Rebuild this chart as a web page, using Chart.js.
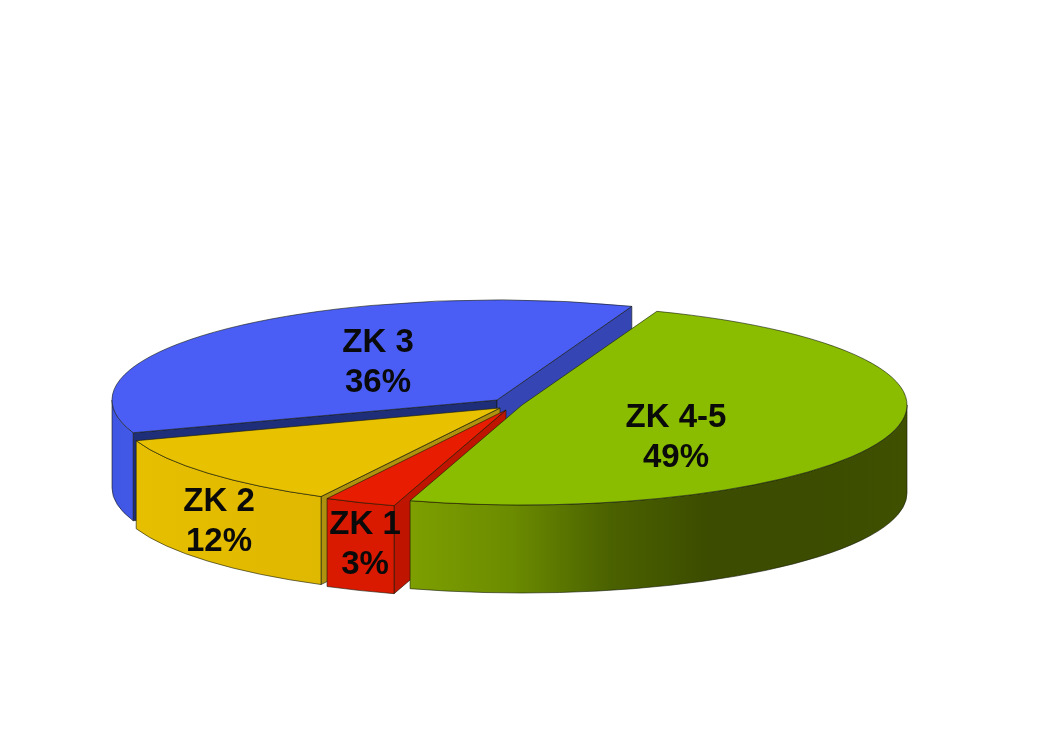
<!DOCTYPE html>
<html>
<head>
<meta charset="utf-8">
<title>ZK</title>
<script src="https://cdn.jsdelivr.net/npm/chart.js@4"></script>
<style>
    html, body { margin: 0; padding: 0; background: #fff; }
    canvas { display: block; }
</style>
</head>
<body>
<canvas id="canvas" width="1040" height="742"></canvas>
<script>
// values, clockwise from the green slice
const categories = ['ZK 4-5', 'ZK 1', 'ZK 2', 'ZK 3'];
const shares = [49, 3, 12, 36];
const percentLabels = ['49%', '3%', '12%', '36%'];

// colours
const topColors = ['#8abd00', '#e81c00', '#e8c100', '#4a5ef6'];
const rimStops = [
    ['#7d9f00', '#6c8c00', '#4b6200', '#3c4c00', '#3c4c00', '#3f5000'],
    ['#d91a00', '#d91a00'],
    ['#e6bf00', '#dfb800'],
    ['#3f55e4', '#4258e6']
];
const startFaces = [null, '#bf1500', '#ad910f', '#1f2e78'];
const endFaces = [null, null, null, '#3546b4'];

// flattened pie layout, in screen pixels
const center = {x: 512, y: 408};
const radiusX = 385;
const radiusY = 100;
const depth = 88;
const firstAngle = 20.5;
const explodeX = [10, -6, -12, -15];
const explodeY = [-3, 2, 0, -8];
const labelDx = [154, -141, -281, -119];
const labelDy = [33, 135, 114, -37];
const edgeColor = 'rgba(20, 25, 10, 0.75)';

const rimPoint = (c, angle) => ({
    x: c.x + radiusX * Math.cos(angle),
    y: c.y + radiusY * Math.sin(angle)
});

const sliceCenter = (i) => ({x: center.x + explodeX[i], y: center.y + explodeY[i]});

const drawFace = (ctx, c, angle, color) => {
    const p = rimPoint(c, angle);
    ctx.beginPath();
    ctx.moveTo(c.x, c.y);
    ctx.lineTo(p.x, p.y);
    ctx.lineTo(p.x, p.y + depth);
    ctx.lineTo(c.x, c.y + depth);
    ctx.closePath();
    ctx.fillStyle = color;
    ctx.fill();
    ctx.stroke();
}

const drawRim = (ctx, c, from, to, stops) => {
    const a1 = Math.max(from, 0);
    const a2 = Math.min(to, Math.PI);
    if (a2 <= a1) return;
    const xs = [rimPoint(c, a1).x, rimPoint(c, a2).x];
    const gradient = ctx.createLinearGradient(Math.min(...xs), 0, Math.max(...xs), 0);
    // angles run from right to left on the front side, stops are listed left to right
    stops.forEach((color, n) => gradient.addColorStop(n / (stops.length - 1), color));
    ctx.beginPath();
    ctx.ellipse(c.x, c.y, radiusX, radiusY, 0, a1, a2);
    ctx.ellipse(c.x, c.y + depth, radiusX, radiusY, 0, a2, a1, true);
    ctx.closePath();
    ctx.fillStyle = gradient;
    ctx.fill();
    ctx.stroke();
}

const pie3d = {
    id: 'pie3d',
    beforeDatasetDraw(chart, args) {
        const ctx = chart.ctx;
        const arcs = args.meta.data;
        const order = arcs.map((_, i) => i).reverse();

        ctx.save();
        ctx.lineWidth = 0.8;
        ctx.strokeStyle = edgeColor;
        ctx.lineJoin = 'round';

        // sides first, back slices before front ones
        order.forEach(i => {
            const c = sliceCenter(i);
            const {startAngle, endAngle} = arcs[i];
            if (startFaces[i]) drawFace(ctx, c, startAngle, startFaces[i]);
            if (endFaces[i]) drawFace(ctx, c, endAngle, endFaces[i]);
            drawRim(ctx, c, startAngle, endAngle, rimStops[i]);
        });

        // then the top surfaces, squeezed from the library's own arcs
        order.forEach(i => {
            const arc = arcs[i];
            const c = sliceCenter(i);
            ctx.save();
            ctx.translate(c.x, c.y);
            ctx.scale(radiusX / arc.outerRadius, radiusY / arc.outerRadius);
            ctx.translate(-arc.x, -arc.y);
            arc.draw(ctx);
            ctx.restore();

            ctx.beginPath();
            ctx.moveTo(c.x, c.y);
            ctx.ellipse(c.x, c.y, radiusX, radiusY, 0, arc.startAngle, arc.endAngle);
            ctx.closePath();
            ctx.stroke();
        });
        ctx.restore();
        return false;
    },
    afterDatasetsDraw(chart) {
        const ctx = chart.ctx;
        ctx.save();
        ctx.font = 'bold 33px "Liberation Sans", Arial, sans-serif';
        ctx.fillStyle = '#0a0a0a';
        ctx.textAlign = 'center';
        ctx.textBaseline = 'middle';
        categories.forEach((name, i) => {
            const c = sliceCenter(i);
            const x = c.x + labelDx[i];
            const y = c.y + labelDy[i];
            ctx.fillText(name, x, y - 20);
            ctx.fillText(percentLabels[i], x, y + 20);
        });
        ctx.restore();
    }
};

new Chart(document.getElementById('canvas').getContext('2d'), {
    type: 'pie',
    data: {
        labels: categories,
        datasets: [{
            data: shares,
            backgroundColor: topColors,
            borderWidth: 0
        }]
    },
    options: {
        responsive: false,
        animation: false,
        rotation: firstAngle,
        plugins: {
            legend: {display: false},
            tooltip: {enabled: false}
        }
    },
    plugins: [pie3d]
});
</script>
</body>
</html>
